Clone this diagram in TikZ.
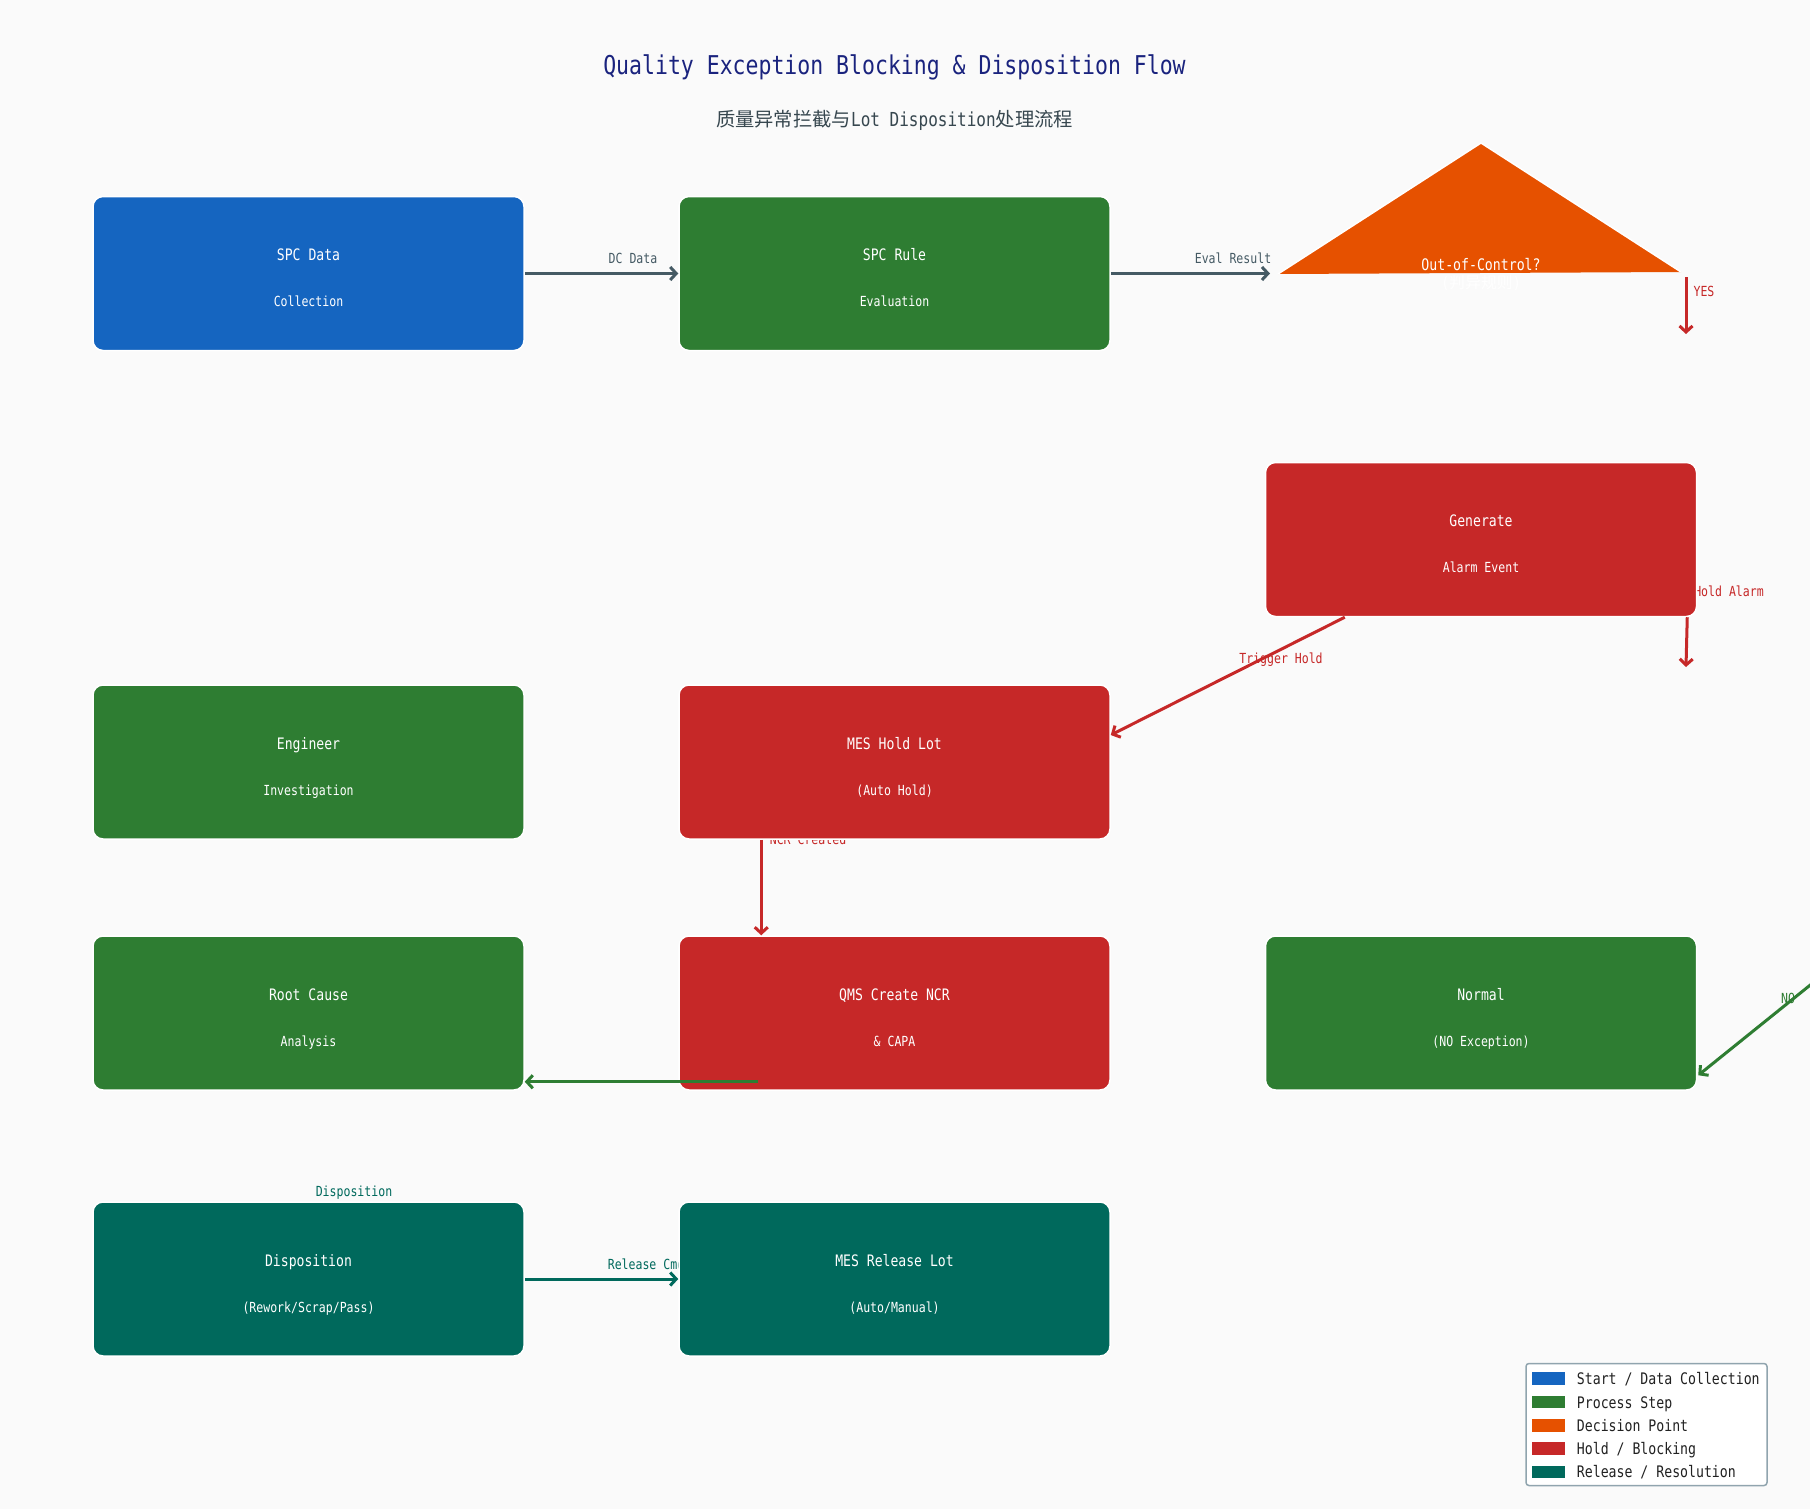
\documentclass[tikz,border=0pt]{standalone}
\usepackage{fontspec}
\setmainfont{DejaVu Sans Mono}[FakeStretch=0.83]
\newfontfamily\cjkfont{Noto Sans CJK SC}
\usetikzlibrary{arrows.meta,calc}
\definecolor{cblue}{HTML}{1565C0}
\definecolor{cgreen}{HTML}{2E7D32}
\definecolor{corange}{HTML}{E65100}
\definecolor{cred}{HTML}{C62828}
\definecolor{cteal}{HTML}{00695C}
\definecolor{cgray}{HTML}{455A64}
\definecolor{ctitle}{HTML}{1A237E}
\definecolor{csub}{HTML}{37474F}
\definecolor{cbg}{HTML}{FAFAFA}
\definecolor{cleg}{HTML}{90A4AE}
\definecolor{clegtxt}{HTML}{212121}
\newcommand\szTitle{\fontsize{25.9pt}{30pt}\selectfont}
\newcommand\szSubt{\fontsize{19.3pt}{23pt}\selectfont}
\newcommand\szMain{\fontsize{15.8pt}{18pt}\selectfont}
\newcommand\szSmall{\fontsize{13.9pt}{16pt}\selectfont}
\newcommand\szLeg{\fontsize{15.9pt}{18pt}\selectfont}
\tikzset{
  flowbox/.style={draw=white, line width=1.5pt, rounded corners=10pt,
    minimum width=431pt, minimum height=154pt, inner sep=0pt},
  mainlbl/.style={text=white, font=\szMain, inner sep=0pt, text height=11.5pt, text depth=3.5pt},
  sublbl/.style={text=white, font=\szSmall, inner sep=0pt, text height=10pt, text depth=3pt},
  elbl/.style={font=\szSmall, inner sep=0pt, text height=10pt, text depth=3pt},
  conn/.style={line width=3pt, -{Straight Barb[length=6pt,width=13pt]}},
  swatch/.style={minimum width=33pt, minimum height=12.5pt, inner sep=0pt},
  legtxt/.style={font=\szLeg, text=clegtxt, anchor=west, inner sep=0pt, text height=11.5pt, text depth=3.5pt}
}
\begin{document}
\begin{tikzpicture}[x=1pt,y=-1pt]
\clip (0,0) rectangle (1810,1509);
\fill[cbg] (0,0) rectangle (1810,1509);

% titles
\node[text=ctitle, font=\szTitle, inner sep=0pt, text height=19pt, text depth=6pt] (title) at (894.5,68.5) {Quality Exception Blocking \& Disposition Flow};
\node[text=csub, font=\szSubt, inner sep=0pt, text height=15pt, text depth=4pt] (subtitle) at (894.5,121) {{\cjkfont 质量异常拦截与}Lot Disposition{\cjkfont 处理流程}};

% edge labels (drawn below boxes)
\node[elbl, text=cgray] (lDC) at (633,259.5) {DC Data};
\node[elbl, text=cgray] (lEval) at (1233,259.5) {Eval Result};
\node[elbl, text=cred] (lYes) at (1704,293) {YES};
\node[elbl, text=cred] (lHA) at (1729,592.5) {Hold Alarm};
\node[elbl, text=cred] (lTH) at (1281,659.5) {Trigger Hold};
\node[elbl, text=cred] (lNCR) at (808,841) {NCR Created};
\node[elbl, text=cgreen] (lNO) at (1788,999.5) {NO};
\node[elbl, text=cteal] (lDisp) at (354,1193) {Disposition};
\node[elbl, text=cteal] (lRel) at (646,1265.5) {Release Cmd};

% decision triangle
\fill[corange] (1278,274) -- (1481,143) -- (1681,272) -- cycle;
\draw[white, line width=1.5pt] (1278,274) -- (1481,143) -- (1681,272);
\coordinate (decL) at (1270,273.5);
\node[text=white, font=\szLeg, inner sep=0pt, text height=11.5pt, text depth=3.5pt] (decT1) at (1481,266.5) {Out-of-Control?};
\node[text=white, font=\szLeg, inner sep=0pt, text height=11.5pt, text depth=3.5pt] (decT2) at (1481,284) {({\cjkfont 判异规则})};

% boxes
\node[flowbox, fill=cblue]  (b1)     at (308.5,273.5) {};
\node[flowbox, fill=cgreen] (b2)     at (894.5,273.5) {};
\node[flowbox, fill=cred]   (gen)    at (1481,539.5) {};
\node[flowbox, fill=cgreen] (eng)    at (308.5,762) {};
\node[flowbox, fill=cred]   (hold)   at (894.5,762) {};
\node[flowbox, fill=cgreen] (root)   at (308.5,1013) {};
\node[flowbox, fill=cred]   (qms)    at (894.5,1013) {};
\node[flowbox, fill=cgreen] (normal) at (1481,1013) {};
\node[flowbox, fill=cteal]  (disp)   at (308.5,1279) {};
\node[flowbox, fill=cteal]  (rel)    at (894.5,1279) {};

% box texts
\node[mainlbl] at ($(b1)+(0,-17)$) {SPC Data};
\node[sublbl]  at ($(b1)+(0,29.5)$) {Collection};
\node[mainlbl] at ($(b2)+(0,-17)$) {SPC Rule};
\node[sublbl]  at ($(b2)+(0,29.5)$) {Evaluation};
\node[mainlbl] at ($(gen)+(0,-17)$) {Generate};
\node[sublbl]  at ($(gen)+(0,29.5)$) {Alarm Event};
\node[mainlbl] at ($(eng)+(0,-17)$) {Engineer};
\node[sublbl]  at ($(eng)+(0,29.5)$) {Investigation};
\node[mainlbl] at ($(hold)+(0,-17)$) {MES Hold Lot};
\node[sublbl]  at ($(hold)+(0,29.5)$) {(Auto Hold)};
\node[mainlbl] at ($(root)+(0,-17)$) {Root Cause};
\node[sublbl]  at ($(root)+(0,29.5)$) {Analysis};
\node[mainlbl] at ($(qms)+(0,-17)$) {QMS Create NCR};
\node[sublbl]  at ($(qms)+(0,29.5)$) {\& CAPA};
\node[mainlbl] at ($(normal)+(0,-17)$) {Normal};
\node[sublbl]  at ($(normal)+(0,29.5)$) {(NO Exception)};
\node[mainlbl] at ($(disp)+(0,-17)$) {Disposition};
\node[sublbl]  at ($(disp)+(0,29.5)$) {(Rework/Scrap/Pass)};
\node[mainlbl] at ($(rel)+(0,-17)$) {MES Release Lot};
\node[sublbl]  at ($(rel)+(0,29.5)$) {(Auto/Manual)};

% free-end coordinates
\coordinate (yesS) at (1686,277);
\coordinate (yesE) at (1686,334);
\coordinate (haE) at (1686,667);
\coordinate (noS) at (1850,953);

% connectors
\draw[conn, cgray] (b1.east) -- (b2.west);
\draw[conn, cgray] (b2.east) -- (decL);
\draw[conn, cred] (yesS) -- (yesE);
\draw[conn, cred] ($(gen.south east)+(-10,0)$) -- (haE);
\draw[conn, cred] ($(gen.south west)+(80,0)$) -- ($(hold.east)+(0,-27)$);
\draw[conn, cred] ($(hold.south west)+(83,0)$) -- ($(qms.north west)+(83,0)$);
\draw[conn, cgreen] ($(qms.south west)+(79.5,-9)$) -- ($(root.south east)+(0,-9)$);
\draw[conn, cgreen] (noS) -- ($(normal.south east)+(1,-15.5)$);
\draw[conn, cteal] (disp.east) -- (rel.west);

% legend
\node[draw=cleg, fill=white, rounded corners=3pt, line width=1.5pt,
      minimum width=241pt, minimum height=122pt, inner sep=0pt] (leg) at (1646.5,1424.5) {};
\node[swatch, fill=cblue]   (s1) at (1548.5,1378.7) {};
\node[swatch, fill=cgreen]  (s2) at (1548.5,1402) {};
\node[swatch, fill=corange] (s3) at (1548.5,1425.3) {};
\node[swatch, fill=cred]    (s4) at (1548.5,1448.6) {};
\node[swatch, fill=cteal]   (s5) at (1548.5,1471.9) {};
\node[legtxt] (t1) at (1576.7,1380.7) {Start / Data Collection};
\node[legtxt] (t2) at (1576.7,1404) {Process Step};
\node[legtxt] (t3) at (1576.7,1427.3) {Decision Point};
\node[legtxt] (t4) at (1576.7,1450.6) {Hold / Blocking};
\node[legtxt] (t5) at (1576.7,1473.9) {Release / Resolution};
\end{tikzpicture}
\end{document}
